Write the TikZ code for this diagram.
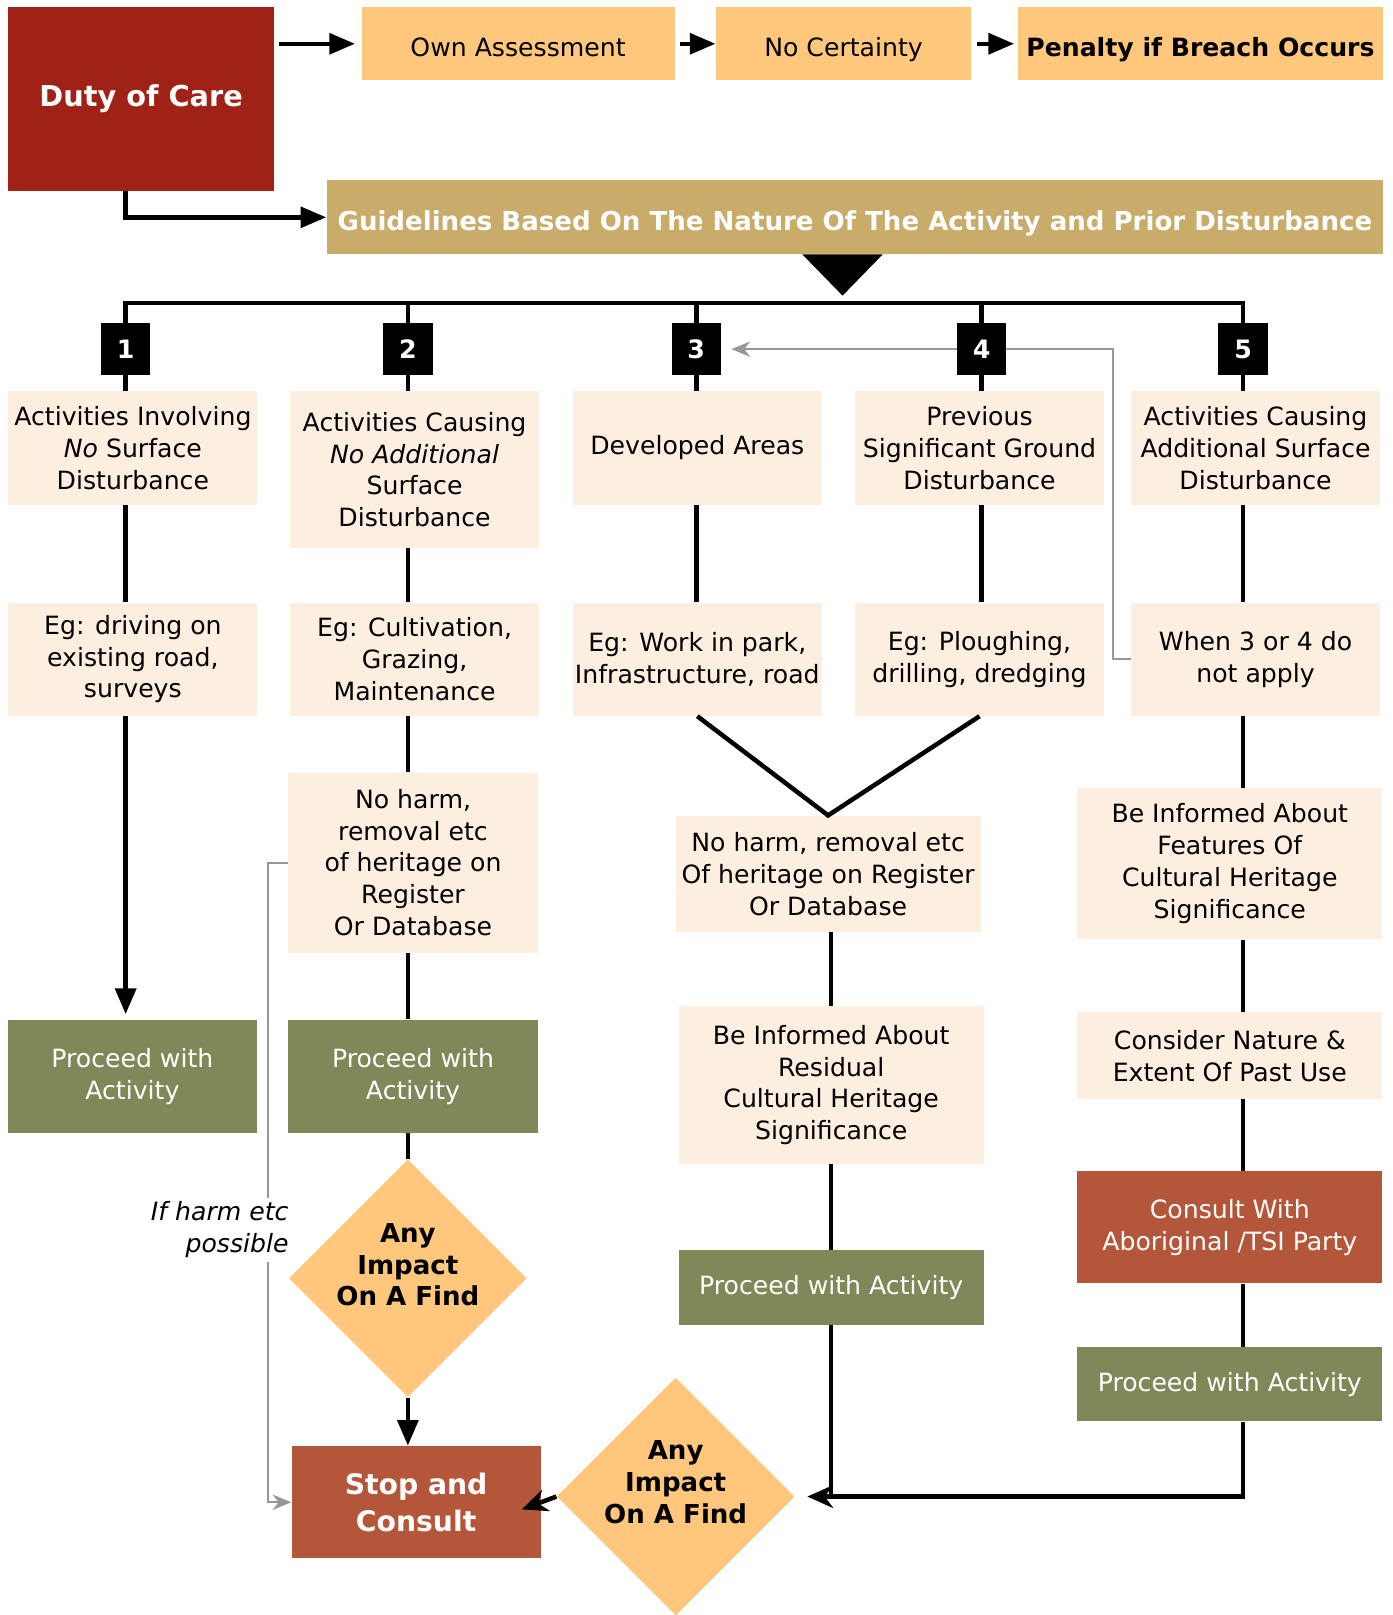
\documentclass[tikz,border=0pt]{standalone}
\usepackage{fontspec}
\setmainfont{DejaVu Sans}
\usetikzlibrary{shapes.geometric,arrows.meta,backgrounds}
\definecolor{dutyred}{RGB}{160,33,22}
\definecolor{lightorange}{RGB}{254,199,124}
\definecolor{guidetan}{RGB}{201,171,106}
\definecolor{boxcream}{RGB}{253,239,223}
\definecolor{olivegreen}{RGB}{128,136,89}
\definecolor{brick}{RGB}{180,86,58}
\definecolor{greyline}{RGB}{150,150,155}

\begin{document}
\begin{tikzpicture}[x=0.02cm, y=-0.02cm,
        txt/.style = {font=\fontsize{13.9}{17.6}\selectfont, align=center, inner sep=0pt},
        cream/.style = {txt, fill=boxcream, minimum width=4.84cm, minimum height=2.2cm},
        top/.style = {txt, fill=lightorange, minimum height=1.42cm, text height=0.6cm, text depth=0.1cm},
        num/.style = {fill=black, text=white, font=\bfseries\fontsize{14}{17}\selectfont, minimum width=0.96cm, minimum height=1cm, inner sep=0pt},
        go/.style = {txt, fill=olivegreen, text=white, minimum width=4.84cm, minimum height=2.2cm},
        find/.style = {diamond, fill=lightorange, inner sep=0pt, minimum width=4.62cm, minimum height=4.62cm},
        findtxt/.style = {font=\bfseries\fontsize{14.4}{17.6}\selectfont, align=center, inner sep=0pt},
        line/.style = {line width=2.5pt},
        arr/.style = {line, -{Triangle[length=0.5cm,width=0.4cm]}},
        sarr/.style = {line, -{Stealth[length=0.5cm,width=0.44cm]}},
        garr/.style = {draw=greyline, line width=1.1pt, -{Stealth[length=0.36cm,width=0.3cm]}}]
    \useasboundingbox (0,0) rectangle (1352,1568);

    \node[txt, fill=dutyred, text=white, font=\bfseries\fontsize{15.9}{19}\selectfont, minimum width=5.16cm, minimum height=3.56cm] (duty) at (137,96) {Duty of Care};
    \node[top, minimum width=6.08cm] (own) at (503,42.5) {Own Assessment};
    \node[top, minimum width=4.96cm] (cert) at (819,42.5) {No Certainty};
    \node[top, minimum width=7.1cm, font=\bfseries\fontsize{13.9}{17}\selectfont] (pen) at (1165.5,42.5) {Penalty if Breach Occurs};
    \node[txt, fill=guidetan, text=white, font=\bfseries\fontsize{14.4}{17}\selectfont, minimum width=20.52cm, minimum height=1.44cm, text height=0.6cm, text depth=0.1cm] (guide) at (830,211) {Guidelines Based On The Nature Of The Activity and Prior Disturbance};

    \foreach \i/\x in {1/122,2/396,3/676,4/953,5/1207}
        \node[num] (n\i) at (\x,339) {\i};

    \node[cream] (b1) at (129,435) {Activities Involving\\\emph{No} Surface\\Disturbance};
    \node[cream, minimum height=3.04cm] (b2) at (402.5,456) {Activities Causing\\\emph{No Additional}\\Surface\\Disturbance};
    \node[cream] (b3) at (677,435) {Developed Areas};
    \node[cream] (b4) at (951,435) {Previous\\Significant Ground\\Disturbance};
    \node[cream] (b5) at (1219,435) {Activities Causing\\Additional Surface\\Disturbance};

    \node[cream] (e1) at (129,640) {Eg: driving on\\existing road,\\surveys};
    \node[cream] (e2) at (402.5,640) {Eg: Cultivation,\\Grazing,\\Maintenance};
    \node[cream] (e3) at (677,640) {Eg: Work in park,\\Infrastructure, road};
    \node[cream] (e4) at (951,640) {Eg: Ploughing,\\drilling, dredging};
    \node[cream] (e5) at (1219,640) {When 3 or 4 do\\not apply};

    \node[cream, minimum height=3.5cm] (h2) at (401,837.5) {No harm,\\removal etc\\of heritage on\\Register\\Or Database};
    \node[go] (p1) at (128.5,1045) {Proceed with\\Activity};
    \node[go] (p2) at (401,1045) {Proceed with\\Activity};
    \node[find] (d1) at (396,1241) {};
    \node[findtxt] (d1t) at ([yshift=0.26cm]d1.center) {Any\\Impact\\On A Find};
    \node[txt, fill=brick, text=white, font=\bfseries\fontsize{15.6}{20.5}\selectfont, minimum width=4.84cm, minimum height=2.18cm] (stop) at (404,1458.5) {Stop and\\Consult};
    \node[find] (d2) at (656,1453) {};
    \node[findtxt] (d2t) at ([yshift=0.28cm]d2.center) {Any\\Impact\\On A Find};

    \node[cream, minimum width=5.92cm, minimum height=2.26cm] (h3) at (804,848.5) {No harm, removal etc\\Of heritage on Register\\Or Database};
    \node[cream, minimum width=5.92cm, minimum height=3.06cm] (r3) at (807,1053.5) {Be Informed About\\Residual\\Cultural Heritage\\Significance};
    \node[go, minimum width=5.92cm, minimum height=1.44cm] (p3) at (807,1250) {Proceed with Activity};

    \node[cream, minimum width=5.92cm, minimum height=2.94cm] (f5) at (1194,838.5) {Be Informed About\\Features Of\\Cultural Heritage\\Significance};
    \node[cream, minimum width=5.92cm, minimum height=1.68cm] (c5) at (1194,1025) {Consider Nature \&\\Extent Of Past Use};
    \node[go, fill=brick, minimum width=5.92cm, minimum height=2.18cm] (con) at (1194,1191.5) {Consult With\\Aboriginal /TSI Party};
    \node[go, minimum width=5.92cm, minimum height=1.44cm] (p5) at (1194,1344) {Proceed with Activity};

    \draw[arr, shorten <=0.1cm, shorten >=0.12cm] (duty.east |- own.west) -- (own.west);
    \draw[arr, shorten <=0.1cm] (own.east) -- (cert.west);
    \draw[arr, shorten <=0.1cm, shorten >=0.06cm] (cert.east) -- (pen.west);
    \draw[arr] (duty.south -| n1) |- (guide.west);
    \fill (779,247) -- (857,247) -- (818,287) -- cycle;

    \coordinate (bus) at (818,294);
    \draw[line] (n1.north) |- (bus) -| (n5.north);
    \foreach \i in {2,3,4}
        \draw[line] (n\i.north) -- (n\i.north |- bus);
    \foreach \i in {1,...,5} {
        \draw[line] (n\i.south) -- (n\i.south |- b\i.north);
        \draw[line] (b\i.south -| n\i) -- (e\i.north -| n\i);
    }

    \draw[arr, shorten >=0.1cm] (e1.south -| n1) -- (p1.north -| n1);

    \draw[line] (e2.south -| n2) -- (h2.north -| n2);
    \draw[line] (h2.south -| n2) -- (p2.north -| n2);
    \draw[line] (p2.south -| n2) -- (d1.north);
    \draw[arr] (d1.south) -- (d1.south |- stop.north);

    \draw[line] (e3.south) -- (h3.north) -- (e4.south);
    \draw[line] (h3.south -| r3) -- (r3.north);
    \draw[line] (r3.south) -- (p3.north);
    \draw[line] (p3.south) -- (p3.south |- d2.east);

    \draw[line] (e5.south -| n5) -- (f5.north -| n5);
    \draw[line] (f5.south -| n5) -- (c5.north -| n5);
    \draw[line] (c5.south -| n5) -- (con.north -| n5);
    \draw[line] (con.south -| n5) -- (p5.north -| n5);
    \draw[sarr, shorten >=0.24cm] (p5.south -| n5) |- (d2.east);
    \draw[sarr, shorten >=-0.4cm] (d2.west) -- (stop.east);

    \begin{scope}[on background layer]
        \draw[garr, shorten >=0.2cm] (e5.west) -- ++(-17,0) |- (n3.east);
        \draw[garr] (h2.west) -- ++(-19,0) |- (stop.west);
    \end{scope}
    \node[txt, fill=white, anchor=east, align=right, inner sep=2pt, font=\itshape\fontsize{13.9}{17.6}\selectfont] (harm) at (284,1194) {If harm etc\\possible};
\end{tikzpicture}
\end{document}
